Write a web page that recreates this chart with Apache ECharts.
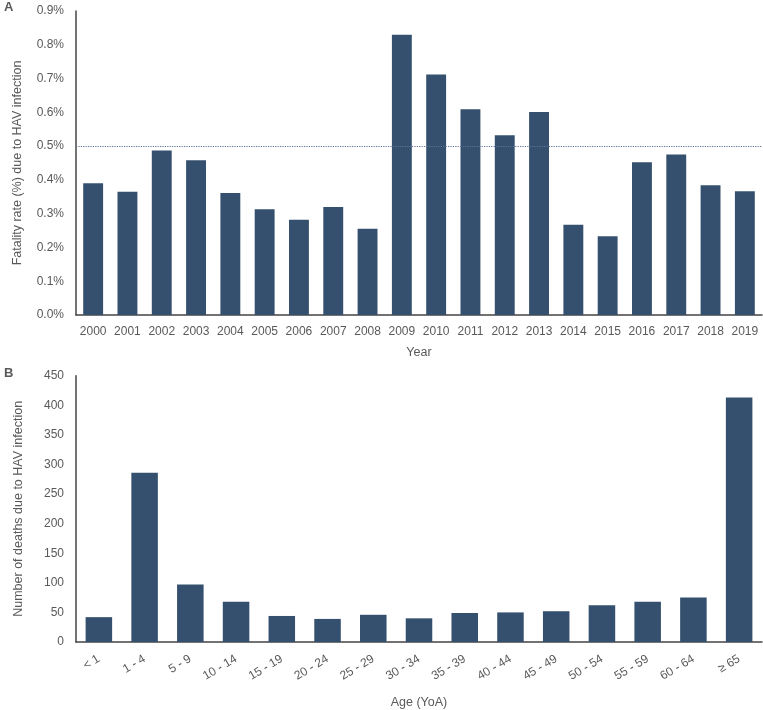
<!DOCTYPE html>
<html>
<head>
<meta charset="utf-8">
<script src="https://cdn.jsdelivr.net/npm/echarts@6/dist/echarts.min.js"></script>
<style>
html,body{margin:0;padding:0;background:#fff;}
#chart{width:763px;height:710px;}
</style>
</head>
<body>
<div id="chart"></div>
<script>
var years = ['2000','2001','2002','2003','2004','2005','2006','2007','2008','2009','2010','2011','2012','2013','2014','2015','2016','2017','2018','2019'];
var fatalityRate = [0.39,0.365,0.487,0.458,0.361,0.313,0.282,0.32,0.255,0.83,0.712,0.609,0.532,0.601,0.267,0.233,0.452,0.475,0.384,0.366];
var fatalityRef = 0.5;
var rateTicks = { min: 0, max: 0.9, interval: 0.1 };

var ageGroups = ['< 1','1 - 4','5 - 9','10 - 14','15 - 19','20 - 24','25 - 29','30 - 34','35 - 39','40 - 44','45 - 49','50 - 54','55 - 59','60 - 64','\u2265 65'];
var deaths = [42,286,97,68,44,39,46,40,49,50,52,62,68,75,413];
var deathTicks = { min: 0, max: 450, interval: 50 };

var FONT = 'Liberation Sans, Arial, sans-serif';
var TXT = '#595959';
var BAR = '#35506F';
var AX = '#444444';

var chart = echarts.init(document.getElementById('chart'), null, {renderer:'canvas'});
chart.setOption({
  animation: false,
  textStyle: { fontFamily: FONT, color: TXT },
  graphic: [
    { type:'text', left: 4, top: 1, style:{ text:'A', font:'bold 13px ' + FONT, fill: TXT } },
    { type:'text', left: 4, top: 367, style:{ text:'B', font:'bold 13px ' + FONT, fill: TXT } }
  ],
  grid: [
    { left: 76, right: 1, top: 11, height: 304 },
    { left: 76, right: 1, top: 375.7, height: 268.3 }
  ],
  xAxis: [
    {
      type: 'category', gridIndex: 0, data: years,
      name: 'Year', nameLocation: 'middle', nameGap: 31,
      nameTextStyle: { fontSize: 12.5, color: TXT, fontFamily: FONT },
      axisLine: { lineStyle: { color: AX, width: 1.5 } },
      axisTick: { show: false },
      axisLabel: { fontSize: 12, color: TXT, margin: 11, interval: 0, fontFamily: FONT }
    },
    {
      type: 'category', gridIndex: 1, data: ageGroups,
      name: 'Age (YoA)', nameLocation: 'middle', nameGap: 54,
      nameTextStyle: { fontSize: 12.5, color: TXT, fontFamily: FONT },
      axisLine: { lineStyle: { color: AX, width: 1.5 } },
      axisTick: { show: false },
      axisLabel: { fontSize: 12, color: TXT, margin: 16, interval: 0, rotate: 31, fontFamily: FONT }
    }
  ],
  yAxis: [
    {
      type: 'value', gridIndex: 0, min: rateTicks.min, max: rateTicks.max, interval: rateTicks.interval,
      name: 'Fatality rate (%) due to HAV infection', nameLocation: 'middle', nameGap: 52,
      nameTextStyle: { fontSize: 12.5, color: TXT, fontFamily: FONT },
      axisLine: { show: true, lineStyle: { color: AX, width: 1.5 } },
      axisTick: { show: false },
      splitLine: { show: false },
      axisLabel: { fontSize: 12, color: TXT, margin: 12, fontFamily: FONT,
        formatter: function(v){ return v.toFixed(1) + '%'; } }
    },
    {
      type: 'value', gridIndex: 1, min: deathTicks.min, max: deathTicks.max, interval: deathTicks.interval,
      name: 'Number of deaths due to HAV infection', nameLocation: 'middle', nameGap: 51,
      nameTextStyle: { fontSize: 12.5, color: TXT, fontFamily: FONT },
      axisLine: { show: true, lineStyle: { color: AX, width: 1.5 } },
      axisTick: { show: false },
      splitLine: { show: false },
      axisLabel: { fontSize: 12, color: TXT, margin: 12, fontFamily: FONT }
    }
  ],
  series: [
    {
      type: 'bar', xAxisIndex: 0, yAxisIndex: 0, data: fatalityRate,
      barCategoryGap: '42%',
      itemStyle: { color: BAR },
      markLine: {
        silent: true, symbol: ['none','none'], label: { show: false },
        lineStyle: { type: 'dotted', color: '#5d7496', width: 1.2 },
        data: [ { yAxis: fatalityRef } ]
      }
    },
    {
      type: 'bar', xAxisIndex: 1, yAxisIndex: 1, data: deaths,
      barCategoryGap: '42%',
      itemStyle: { color: BAR }
    }
  ]
});
</script>
</body>
</html>
